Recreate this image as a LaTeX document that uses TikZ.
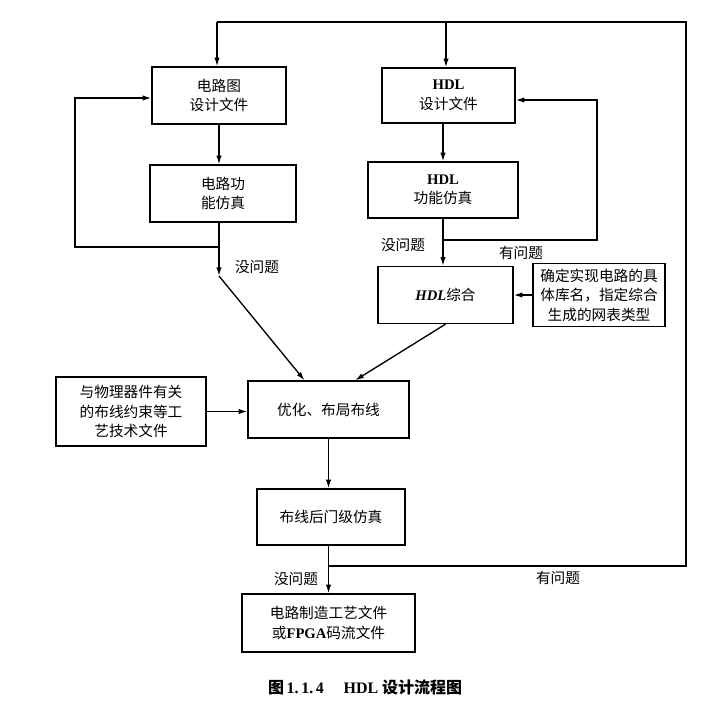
\documentclass[tikz,border=0pt]{standalone}
\usepackage{fontspec}
\setmainfont{Noto Sans CJK SC}
\newfontfamily\lat{Liberation Serif}
\usetikzlibrary{arrows.meta}

\tikzset{
  blk/.style={draw, line width=1pt, align=center, inner sep=0pt, font=\fontsize{11}{14.6}\selectfont},
  lbl/.style={inner sep=0pt, font=\fontsize{11}{14.6}\selectfont},
  flow/.style={line width=1pt, -{Latex[length=6.5pt,width=4pt]}},
  wire/.style={line width=1pt}
}

\begin{document}
\begin{tikzpicture}[x=0.75pt,y=0.75pt,yscale=-1,xscale=1]
\path (0,0) rectangle (726,704); %set diagram left start at 0, and has height of 704

%Flowchart: Process
\node (sch) [blk, minimum width=100.5pt, minimum height=42.75pt] at (219,95.5) {电路图\\设计文件};
%Flowchart: Process
\node (hdl) [blk, minimum width=99.75pt, minimum height=41.25pt] at (448.5,95.5) {{\lat\bfseries HDL}\\设计文件};
%Flowchart: Process
\node (schsim) [blk, minimum width=109.5pt, minimum height=42.75pt] at (223,193.5) {电路功\\能仿真};
%Flowchart: Process
\node (hdlsim) [blk, minimum width=112.5pt, minimum height=42pt] at (443,190) {{\lat\bfseries HDL}\\功能仿真};
%Flowchart: Process
\node (syn) [blk, minimum width=101.25pt, minimum height=42.75pt] at (445.5,295) {{\lat\bfseries\itshape HDL}综合};
%Flowchart: Process
\node (lib) [blk, minimum width=99pt, minimum height=47.25pt] at (599,295) {确定实现电路的具\\体库名，指定综合\\生成的网表类型};
%Flowchart: Process
\node (pnr) [blk, minimum width=120.75pt, minimum height=42.75pt] at (328.5,409.5) {优化、布局布线};
%Flowchart: Process
\node (cons) [blk, minimum width=112.5pt, minimum height=51.75pt] at (131,411.5) {与物理器件有关\\的布线约束等工\\艺技术文件};
%Flowchart: Process
\node (gsim) [blk, minimum width=111pt, minimum height=42pt] at (331,517) {布线后门级仿真};
%Flowchart: Process
\node (out) [blk, minimum width=129.75pt, minimum height=43.5pt] at (328.5,623) {电路制造工艺文件\\或{\lat\bfseries FPGA}码流文件};

%Corner points
\coordinate (tl) at (217,22);
\coordinate (tm) at (446,22);
\coordinate (tr) at (686,22);
\coordinate (br) at (686,566);
\coordinate (lx) at (75,98);
\coordinate (rx) at (597,100);
\coordinate (lj) at (sch.south |- 0,247);
\coordinate (lk) at (sch.south |- 0,276);
\coordinate (rj) at (hdlsim.south |- 0,240);
\coordinate (bj) at (out.north |- 0,566);

%Straight Lines
\draw [wire] (bj) -- (br) -- (tr) -- (tl);
\draw [flow] (tl) -- (tl |- sch.north);
\draw [flow] (tm) -- (tm |- hdl.north);
\draw [flow] (sch.south) -- (sch.south |- schsim.north);
\draw [flow] (hdlsim |- hdl.south) -- (hdlsim.north);
%Left loop
\draw [wire] (sch.south |- schsim.south) -- (lj);
\draw [flow] (lj) -| (lx) -- (lx -| sch.west);
%Right loop
\draw [flow] (rj) -| (rx) -- (rx -| hdl.east);
\draw [flow] (hdlsim.south) -- (hdlsim.south |- syn.north);
\draw [flow] (lj) -- (lk);
\draw [flow] (lk) -- ([xshift=-18pt]pnr.north);
\draw [flow] (lib.west) -- (syn.east);
\draw [flow] (syn.south) -- ([xshift=20pt]pnr.north);
\draw [flow] (cons.east) -- (cons.east -| pnr.west);
\draw [flow] (pnr.south) -- (pnr.south |- gsim.north);
\draw [wire] (out.north |- gsim.south) -- (bj);
\draw [flow] (bj) -- (out.north);

% Text Node
\node (ok1) [lbl] at (257,267) {没问题};
% Text Node
\node (ok2) [lbl] at (403,245) {没问题};
% Text Node
\node (ng1) [lbl] at (521,253) {有问题};
% Text Node
\node (ok3) [lbl] at (296,579) {没问题};
% Text Node
\node (ng2) [lbl] at (558,578) {有问题};
% Text Node
\node (cap) [lbl, font=\fontsize{12}{14}\selectfont\bfseries] at (365,687) {图\,{\lat 1.\,1.\,4}\quad\ {\lat HDL} 设计流程图};
\end{tikzpicture}
\end{document}
